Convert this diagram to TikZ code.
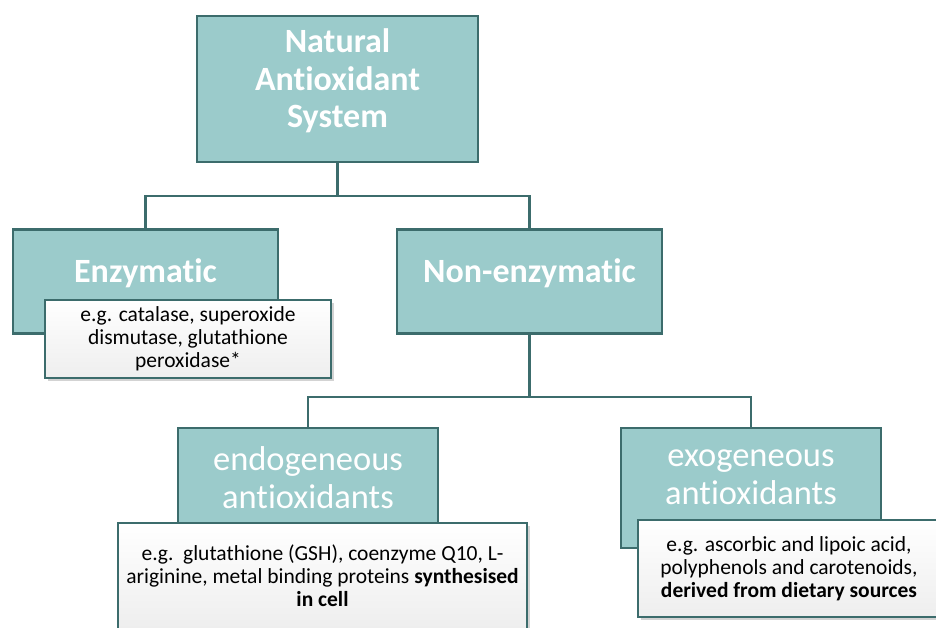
\documentclass[tikz,border=0pt]{standalone}
\usepackage{fontspec}
\setmainfont{Carlito}[Ligatures=NoCommon]
\usetikzlibrary{calc,shadows}

\definecolor{boxfill}{HTML}{9BCBCB}
\definecolor{boxline}{HTML}{3C6C6C}
\definecolor{notefill}{HTML}{EEEEEE}
\newcommand{\boxtail}{\rule[-21pt]{0pt}{21pt}} % lifts the box text a little

\begin{document}
\begin{tikzpicture}[x=1pt,y=1pt]
\clip (0,0) rectangle (936,-628); % frame of the picture
\tikzstyle{mainbox} = [rectangle, draw=boxline, line width=2.2pt, fill=boxfill, text=white, align=center, execute at end node=\boxtail] % teal box
\tikzstyle{rootbox} = [mainbox, minimum width=281pt, minimum height=146pt, font=\fontsize{34}{37.5}\selectfont\bfseries]
\tikzstyle{kindbox} = [mainbox, minimum width=265pt, minimum height=104pt, font=\fontsize{34}{37.5}\selectfont\bfseries]
\tikzstyle{subbox} = [mainbox, minimum width=260pt, minimum height=120pt, font=\fontsize{34.5}{38}\selectfont]
\tikzstyle{note} = [rectangle, draw=boxline, line width=2.2pt, top color=white, bottom color=notefill, align=center, font=\fontsize{21.5}{23}\selectfont, drop shadow={shadow xshift=3pt, shadow yshift=-3pt, opacity=0.35}] % note with examples
\tikzstyle{level 1}=[level distance=192.5pt, sibling distance=384pt, edge from parent path={(\tikzparentnode.south) -- ++(0,-33) -| (\tikzchildnode.north)}]
\tikzstyle{level 2}=[level distance=206.5pt, sibling distance=443pt, edge from parent path={(\tikzparentnode.south) -- ++(0,-62) -| (\tikzchildnode.north)}]
\tikzstyle{edge from parent}=[draw=boxline, line width=2.2pt]

\node[rootbox] (root) at (337.5,-89) {Natural\\Antioxidant\\System}
    child { node[kindbox] (enz) {Enzymatic} }
    child { node[kindbox] (nonenz) {Non-enzymatic}
                	child { node[subbox] (endo) {endogeneous\\antioxidants} }
                	child { node[subbox] (exo) {exogeneous\\antioxidants} }
    } ;

% notes over the boxes
\node[note, minimum width=286pt, minimum height=78pt] (enznote) at ($(enz)+(42.5,-57.5)$)
    {e.g. catalase, superoxide\\dismutase, glutathione\\peroxidase*};
\node[note, minimum width=409pt, minimum height=106pt] (endonote) at ($(endo)+(14.5,-88)$)
    {e.g.\ \ glutathione (GSH), coenzyme Q10, L-\\ariginine, metal binding proteins \textbf{synthesised}\\\textbf{in cell}};
\node[note, minimum width=302pt, minimum height=97pt] (exonote) at ($(exo)+(38,-80.5)$)
    {e.g. ascorbic and lipoic acid,\\polyphenols and carotenoids,\\\textbf{derived from dietary sources}};
\end{tikzpicture}
\end{document}
